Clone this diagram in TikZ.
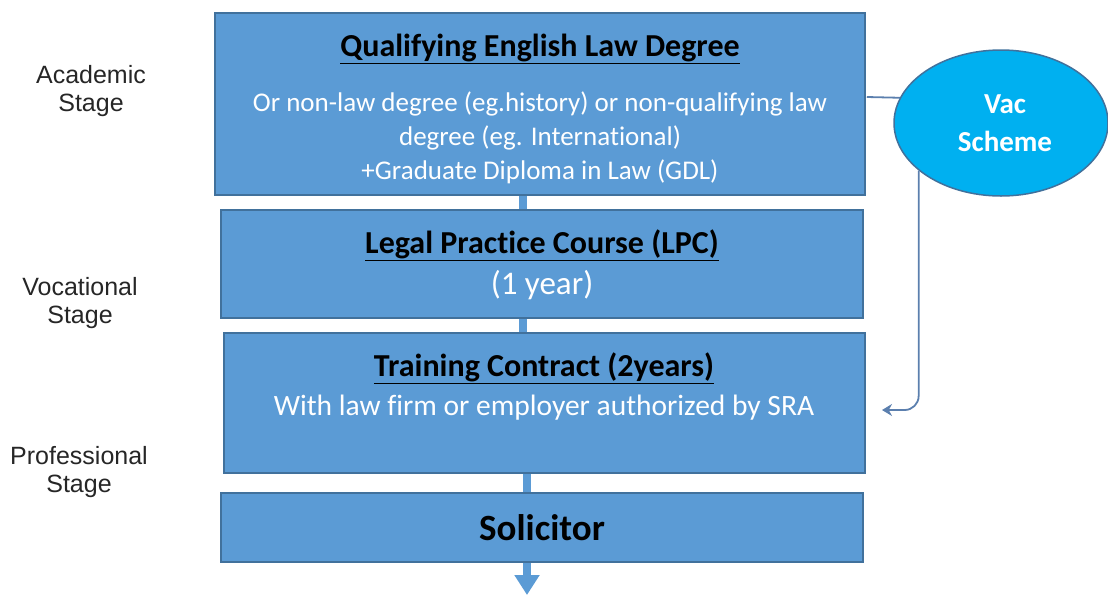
\documentclass[tikz,border=0pt]{standalone}
\usepackage{fontspec}
\setmainfont{Carlito}[Ligatures=NoCommon]
\newfontfamily\labelfont{Liberation Sans}
\usetikzlibrary{arrows.meta,positioning,calc,shapes.geometric}

\definecolor{boxblue}{HTML}{5B9BD5}
\definecolor{boxedge}{HTML}{41719C}
\definecolor{vacblue}{HTML}{00B0F0}
\definecolor{linkblue}{HTML}{5B7FAE}

\begin{document}
\begin{tikzpicture}[
    x=1pt, y=-1pt,
    stagebox/.style={
        draw=boxedge,
        fill=boxblue,
        line width=1.5pt,
        inner sep=0pt
    },
    head/.style={
        font=\fontsize{32}{36}\selectfont\bfseries,
        text=black,
        anchor=base
    },
    body/.style={
        font=\fontsize{27}{34}\selectfont,
        text=white,
        align=center,
        inner sep=0pt,
        anchor=north
    },
    vac/.style={
        ellipse,
        draw=boxedge,
        fill=vacblue,
        line width=1.5pt,
        minimum width=214pt,
        minimum height=146pt,
        inner sep=0pt,
        align=center,
        text=white,
        font=\fontsize{29}{38}\selectfont\bfseries
    },
    side/.style={
        font=\labelfont\fontsize{25}{28}\selectfont,
        text=black!85,
        align=center
    },
    bar/.style={
        boxblue,
        line width=8pt
    },
    link/.style={
        linkblue,
        line width=1.8pt,
        rounded corners=14pt
    }
]
\useasboundingbox (0,0) rectangle (1108,595);

% the four stages, top to bottom
\node[stagebox, minimum width=650pt, minimum height=182pt] (qeld) at (540,104) {};
\node[stagebox, minimum width=642pt, minimum height=108pt] (lpc) at (542,264) {};
\node[stagebox, minimum width=641pt, minimum height=140pt] (tc) at (544.5,403) {};
\node[stagebox, minimum width=642pt, minimum height=69pt] (sol) at (542,527.5) {};

% box texts
\node[head] (qeldhead) at (540,56) {\underline{Qualifying English Law Degree}};
\node[body] (qeldbody) at (540,92)
    {Or non-law degree (eg.history) or non-qualifying law\\degree (eg. International)\\+Graduate Diploma in Law (GDL)};

\node[head] (lpchead) at (542,253) {\underline{Legal Practice Course (LPC)}};
\node[body, font=\fontsize{33}{36}\selectfont] (lpcbody) at (542,270) {(1 year)};

\node[head] (tchead) at (544,376) {\underline{Training Contract (2years)}};
\node[body, font=\fontsize{29.5}{34}\selectfont] (tcbody) at (544,395) {With law firm or employer authorized by SRA};

\node[head, font=\fontsize{37}{40}\selectfont\bfseries] (solhead) at (542,540) {Solicitor};

% spine joining the stages
\coordinate (spine) at (523,0);
\coordinate (spinelow) at (527,0);
\coordinate (exit) at (527,595);
\draw[bar] (qeld.south -| spine) -- (lpc.north -| spine);
\draw[bar] (lpc.south -| spine) -- (tc.north -| spine);
\draw[bar] (tc.south -| spinelow) -- (sol.north -| spinelow);
\draw[bar, -{Triangle[width=24pt,length=20pt]}] (sol.south -| spinelow) -- (exit);

% vacation scheme side route
\node[vac] (vac) at (1001,123) {\hspace*{8pt}Vac\\\hspace*{8pt}Scheme};
\coordinate (tcentry) at (882,410);
\draw[link] ($(qeld.east)+(1,-7)$) -- (vac.166);
\draw[link, -{Stealth[length=10pt,width=12pt]}] (vac.210) |- (tcentry);

% stage labels down the left
\node[side] (academic) at (91,91) {Academic\\Stage};
\node[side] (vocational) at (80,303) {Vocational\\Stage};
\node[side] (professional) at (79,472) {Professional\\Stage};

\end{tikzpicture}
\end{document}
